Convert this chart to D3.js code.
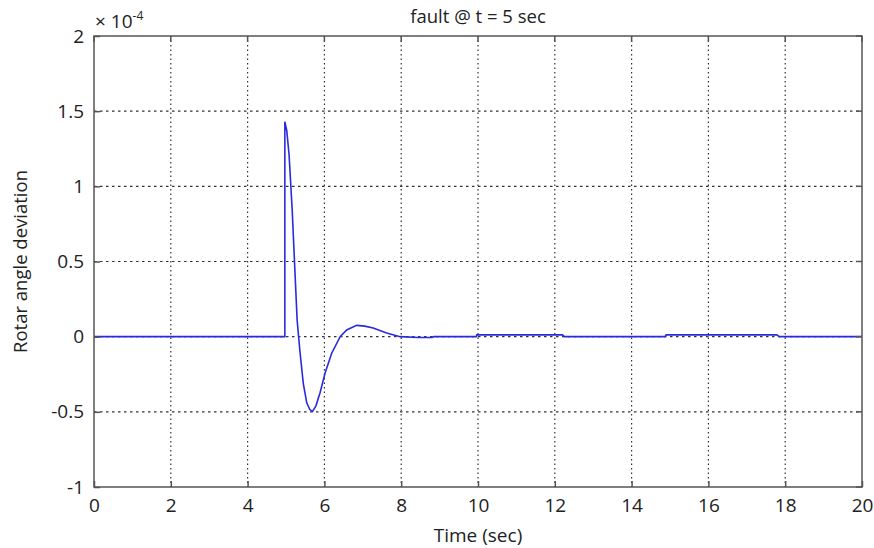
<!DOCTYPE html>
<html>
<head>
<meta charset="utf-8">
<script src="https://cdn.jsdelivr.net/npm/d3@7"></script>
<style>
  body { margin: 0; background: #fff; }
  text { font-family: "Open Sans", "Noto Sans", sans-serif; fill: #222; }
</style>
</head>
<body>
<div id="chart"></div>
<script>
// ---- data (y in units of 1e-4) ----
const timeVals = [0, 4.97, 4.97, 5.02, 5.08, 5.16, 5.23, 5.29, 5.36, 5.45, 5.54, 5.62, 5.69, 5.78, 5.89,
  6.02, 6.19, 6.41, 6.58, 6.84, 7.05, 7.27, 7.62, 7.97, 8.44, 8.8, 8.85, 9.96, 9.97, 12.2, 12.25,
  14.87, 14.9, 17.78, 17.85, 20];
const angleVals = [0, 0, 1.43, 1.37, 1.21, 0.85, 0.45, 0.11, -0.09, -0.31, -0.44, -0.485, -0.497, -0.46, -0.37,
  -0.24, -0.11, 0, 0.045, 0.075, 0.07, 0.058, 0.025, 0, -0.006, -0.006, 0, 0, 0.012, 0.012, 0,
  0, 0.012, 0.012, 0, 0];
const xTicks = [0, 2, 4, 6, 8, 10, 12, 14, 16, 18, 20];
const yTicks = [-1, -0.5, 0, 0.5, 1, 1.5, 2];

const width = 874, height = 548;
const margin = { left: 94, right: 12, top: 36, bottom: 61 };

const svg = d3.select("#chart").append("svg")
  .attr("width", width)
  .attr("height", height);

const x = d3.scaleLinear().domain([0, 20]).range([margin.left, width - margin.right]);
const y = d3.scaleLinear().domain([-1, 2]).range([height - margin.bottom, margin.top]);

// grid lines
svg.append("g").selectAll("line")
  .data(xTicks.slice(1, -1))
  .enter().append("line")
  .attr("x1", d => x(d)).attr("x2", d => x(d))
  .attr("y1", y(2)).attr("y2", y(-1))
  .attr("stroke", "#333").attr("stroke-width", 1.2)
  .attr("stroke-dasharray", "1.5,3");

svg.append("g").selectAll("line")
  .data(yTicks.slice(1, -1))
  .enter().append("line")
  .attr("x1", x(0)).attr("x2", x(20))
  .attr("y1", d => y(d)).attr("y2", d => y(d))
  .attr("stroke", "#333").attr("stroke-width", 1.2)
  .attr("stroke-dasharray", "2.5,3.5");

// curve
const line = d3.line().x((d, i) => x(timeVals[i])).y(d => y(d));
svg.append("path")
  .datum(angleVals)
  .attr("d", line)
  .attr("fill", "none")
  .attr("stroke", "#2a2ae0")
  .attr("stroke-width", 1.6);

// box
svg.append("rect")
  .attr("x", x(0)).attr("y", y(2))
  .attr("width", x(20) - x(0)).attr("height", y(-1) - y(2))
  .attr("fill", "none").attr("stroke", "#555").attr("stroke-width", 1.5);

// axes (ticks inward)
const xAxis = d3.axisBottom(x).tickValues(xTicks).tickSize(-6).tickPadding(12).tickFormat(d3.format("d"));
const gx = svg.append("g").attr("transform", `translate(0,${y(-1)})`).call(xAxis);
const yAxis = d3.axisLeft(y).tickValues(yTicks).tickSize(-6).tickPadding(10).tickFormat(d => d);
const gy = svg.append("g").attr("transform", `translate(${x(0)},0)`).call(yAxis);
[gx, gy].forEach(g => {
  g.select(".domain").remove();
  g.selectAll(".tick line").attr("stroke", "#555").attr("stroke-width", 1.5);
  g.selectAll(".tick text").attr("font-size", 19).attr("fill", "#222")
    .style("font-family", "'Open Sans', 'Noto Sans', sans-serif");
});
// top/right inward ticks
svg.append("g").selectAll("line").data(xTicks).enter().append("line")
  .attr("x1", d => x(d)).attr("x2", d => x(d)).attr("y1", y(2)).attr("y2", y(2) + 6)
  .attr("stroke", "#555").attr("stroke-width", 1.5);
svg.append("g").selectAll("line").data(yTicks).enter().append("line")
  .attr("x1", x(20)).attr("x2", x(20) - 6).attr("y1", d => y(d)).attr("y2", d => y(d))
  .attr("stroke", "#555").attr("stroke-width", 1.5);

// exponent label
const expo = svg.append("text").attr("x", x(0) + 1).attr("y", 28).attr("font-size", 19);
expo.append("tspan").text("× 10");
expo.append("tspan").attr("dy", -8).attr("font-size", 12).text("-4");

// title and axis labels
svg.append("text")
  .attr("x", (x(0) + x(20)) / 2).attr("y", 23)
  .attr("text-anchor", "middle").attr("font-size", 18.5)
  .text("fault @ t = 5 sec");

svg.append("text")
  .attr("x", (x(0) + x(20)) / 2).attr("y", 542)
  .attr("text-anchor", "middle").attr("font-size", 19)
  .text("Time (sec)");

svg.append("text")
  .attr("transform", `translate(27,${(y(2) + y(-1)) / 2}) rotate(-90)`)
  .attr("text-anchor", "middle").attr("font-size", 18.5)
  .text("Rotar angle deviation");
</script>
</body>
</html>
